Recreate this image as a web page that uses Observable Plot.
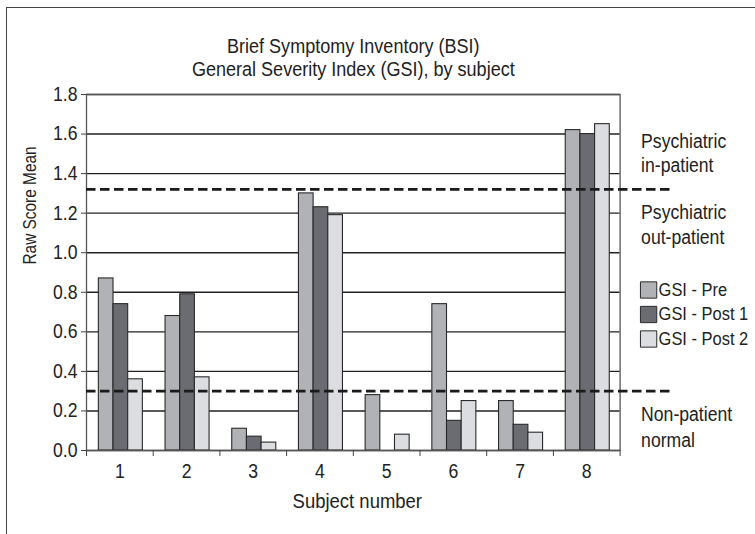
<!DOCTYPE html>
<html>
<head>
<meta charset="utf-8">
<script src="https://cdn.jsdelivr.net/npm/d3@7"></script>
<script src="https://cdn.jsdelivr.net/npm/@observablehq/plot@0.6"></script>
<style>
  html, body { margin: 0; padding: 0; background: #fff; overflow: hidden; }
  #wrap { position: relative; width: 755px; height: 534px; overflow: hidden; }
  #border { position: absolute; left: 6px; top: 7px; width: 800px; height: 600px; border: 1.5px solid #444; box-sizing: border-box; pointer-events: none; }
</style>
</head>
<body>
<div id="wrap"><div id="border"></div><div id="chart"></div></div>
<script>
// ---- data ----
const subjects = [1, 2, 3, 4, 5, 6, 7, 8];
const seriesNames = ["GSI - Pre", "GSI - Post 1", "GSI - Post 2"];
const gsiPre   = [0.87, 0.68, 0.11, 1.30, 0.28, 0.74, 0.25, 1.62];
const gsiPost1 = [0.74, 0.79, 0.07, 1.23, 0.00, 0.15, 0.13, 1.60];
const gsiPost2 = [0.36, 0.37, 0.04, 1.19, 0.08, 0.25, 0.09, 1.65];
const yTicks = [0, 0.2, 0.4, 0.6, 0.8, 1.0, 1.2, 1.4, 1.6, 1.8];
const cutoffs = [1.32, 0.30];
const titleLines = ["Brief Symptomy Inventory (BSI)", "General Severity Index (GSI), by subject"];
const yLabel = "Raw Score Mean";
const xLabel = "Subject number";
const zoneLabels = ["Psychiatric\nin-patient", "Psychiatric\nout-patient", "Non-patient\nnormal"];
const colors = ["#b1b2b6", "#6b6c71", "#dcdde0"];

// ---- build table ----
const seriesValues = [gsiPre, gsiPost1, gsiPost2];
const rows = [];
seriesNames.forEach((name, i) => {
  subjects.forEach((s, j) => rows.push({subject: s, series: name, idx: i, value: seriesValues[i][j]}));
});
const boundaries = [subjects[0] - 0.5, ...subjects.map(s => s + 0.5)];

const FONT = "'Liberation Sans', Arial, sans-serif";
const barW = 0.22;
const groupStart = -0.315;
const ink = "#222";

const legendMarks = seriesNames.flatMap((name, i) => [
  Plot.dot([name], {frameAnchor: "top-right", symbol: "square", r: 9.2, fill: d => d, stroke: "#2a2a2a", strokeWidth: 1, dx: 28.5, dy: 195.5 + i * 24.5}),
  Plot.text([name], {frameAnchor: "top-right", textAnchor: "start", lineAnchor: "middle", dx: 38.5, dy: 195.5 + i * 24.5, fontSize: 17.5, fill: ink})
]);

const chart = Plot.plot({
  width: 755,
  height: 534,
  marginLeft: 86,
  marginRight: 135.4,
  marginTop: 94,
  marginBottom: 84,
  style: {fontFamily: FONT, fontSize: "20px", color: ink, background: "transparent"},
  x: {type: "linear", domain: [boundaries[0], boundaries[boundaries.length - 1]], axis: null},
  y: {domain: [0, 1.8], axis: null},
  color: {domain: seriesNames, range: colors},
  marks: [
    Plot.gridY(yTicks, {stroke: "#222", strokeOpacity: 1, strokeWidth: 1.4}),
    Plot.rectY(rows, {
      x1: d => d.subject + groupStart + d.idx * barW,
      x2: d => d.subject + groupStart + (d.idx + 1) * barW,
      y1: 0,
      y2: "value",
      fill: "series",
      stroke: "#2a2a2a",
      strokeWidth: 1.1
    }),
    Plot.frame({stroke: "#555", strokeWidth: 1.3}),
    Plot.ruleY(cutoffs, {stroke: "#1a1a1a", strokeWidth: 2.7, strokeDasharray: "9.5,4.5", insetRight: -53}),
    Plot.axisY({ticks: yTicks, tickFormat: d => d.toFixed(1), tickSize: 5, tickPadding: 4, label: null, stroke: "#444", fontSize: 20}),
    Plot.axisX({ticks: boundaries, tickFormat: () => "", tickSize: 6, label: null, stroke: "#444"}),
    Plot.axisX({ticks: subjects, tickFormat: d => String(d), tickSize: 0, tickPadding: 13, label: null, fontSize: 20}),
    // title
    Plot.text([titleLines.join("\n")], {frameAnchor: "top", lineAnchor: "bottom", dy: -19, fontSize: 20.5, lineHeight: 1.1, fill: ink}),
    // axis labels
    Plot.text([xLabel], {frameAnchor: "bottom", lineAnchor: "bottom", dy: 57, dx: 4, fontSize: 21, fill: ink}),
    Plot.text([yLabel], {frameAnchor: "left", rotate: -90, dx: -56, dy: -8, fontSize: 17.5, fill: ink}),
    // zone labels (right side)
    Plot.text([zoneLabels[0]], {frameAnchor: "top-right", textAnchor: "start", lineAnchor: "top", dx: 21, dy: 36, fontSize: 20, lineHeight: 1.2, fill: ink}),
    Plot.text([zoneLabels[1]], {frameAnchor: "top-right", textAnchor: "start", lineAnchor: "top", dx: 21, dy: 107, fontSize: 20, lineHeight: 1.25, fill: ink}),
    Plot.text([zoneLabels[2]], {frameAnchor: "bottom-right", textAnchor: "start", lineAnchor: "bottom", dx: 21, dy: -4, fontSize: 20, lineHeight: 1.3, fill: ink}),
    ...legendMarks
  ]
});

document.getElementById("chart").appendChild(chart);

// condense glyphs horizontally to mimic the narrow typeface of the original
const SQUEEZE = 0.88;
const LEGEND_SQUEEZE = 0.94;
chart.querySelectorAll("text").forEach(t => {
  const spans = t.querySelectorAll("tspan");
  const targets = spans.length ? Array.from(spans) : [t];
  const k = seriesNames.includes(t.textContent) ? LEGEND_SQUEEZE : SQUEEZE;
  targets.forEach(el => {
    const len = el.getComputedTextLength();
    if (len > 0) {
      el.setAttribute("textLength", (len * k).toFixed(2));
      el.setAttribute("lengthAdjust", "spacingAndGlyphs");
    }
  });
});
</script>
</body>
</html>
